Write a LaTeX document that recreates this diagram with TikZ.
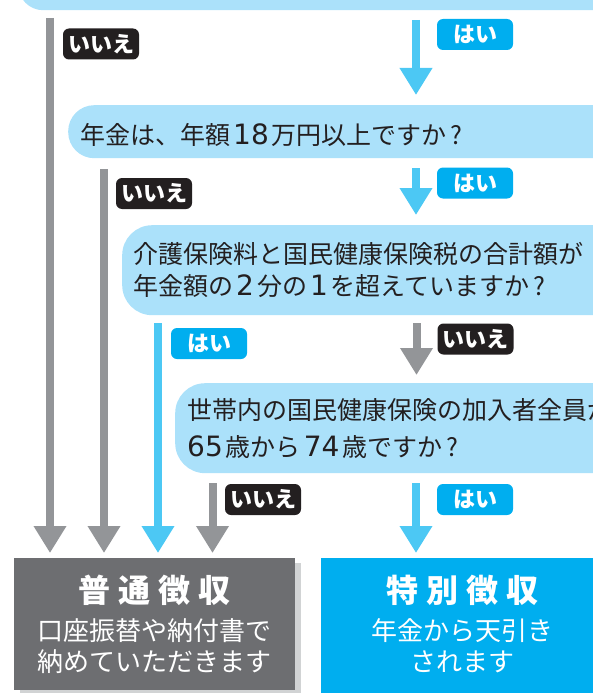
\documentclass[tikz,border=0pt]{standalone}
\usepackage{fontspec}
\setmainfont{Noto Sans CJK JP}
\newfontfamily\digitfont{DejaVu Sans}
\usetikzlibrary{arrows.meta}
\definecolor{bubble}{HTML}{ABE1FA}
\definecolor{arrblue}{HTML}{4CC8F4}
\definecolor{arrgray}{HTML}{939598}
\definecolor{yesbg}{HTML}{00AEEF}
\definecolor{nobg}{HTML}{231F20}
\definecolor{boxgray}{HTML}{6D6E71}
\definecolor{shadowgray}{HTML}{D1D3D4}
\definecolor{boxblue}{HTML}{00AEEF}
\definecolor{ink}{HTML}{231F20}
\newcommand{\dgt}[1]{{\digitfont\fontsize{28}{33}\selectfont #1}}
\newcommand{\jg}{\hspace{3pt}}
\tikzset{
  bubblebox/.style={fill=bubble, anchor=north west, inner sep=0pt},
  qtext/.style={anchor=base west, inner sep=0pt, text=ink, font=\fontsize{25}{33}\selectfont},
  garrow/.style={draw=arrgray, line width=8pt, -{Triangle[width=31pt,length=27pt]}},
  barrow/.style={draw=arrblue, line width=8pt, -{Triangle[width=31pt,length=27pt]}},
  anslabel/.style={rounded corners=6pt, text=white, minimum width=76pt, minimum height=31pt, inner sep=0pt, font=\fontsize{22}{24}\selectfont\bfseries},
  yeslabel/.style={anslabel, fill=yesbg},
  nolabel/.style={anslabel, fill=nobg},
  resultbox/.style={anchor=north west, inner sep=0pt},
  titletext/.style={anchor=base, inner sep=0pt, text=white, font=\fontsize{32}{36}\selectfont\bfseries},
  boxtext/.style={anchor=base, inner sep=0pt, text=white, font=\fontsize{26}{30}\selectfont},
}
\begin{document}
\begin{tikzpicture}[x=1pt,y=-1pt]
\useasboundingbox (0,0) rectangle (593,693);
\clip (0,0) rectangle (593,693);

% question bubbles
\node[bubblebox, minimum width=640pt, minimum height=60pt, rounded corners=25pt] (q0) at (18,-50) {};
\node[bubblebox, minimum width=560pt, minimum height=53pt, rounded corners=26pt] (q1) at (68,105) {};
\node[bubblebox, minimum width=500pt, minimum height=90pt, rounded corners=30pt] (q2) at (122,225) {};
\node[bubblebox, minimum width=500pt, minimum height=90pt, rounded corners=30pt] (q3) at (175,383) {};

\node[qtext] (q1t) at (80,144) {年金は、年額\jg\dgt{18}\jg 万円以上ですか\hspace{4pt}?};
\node[qtext] (q2a) at (133,263) {介護保険料と国民健康保険税の合計額が};
\node[qtext] (q2b) at (133,295.5) {年金額の\jg\dgt{2}\jg 分の\jg\dgt{1}\jg を超えていますか\hspace{4pt}?};
\node[qtext] (q3a) at (187,419.5) {世帯内の国民健康保険の加入者全員が};
\node[qtext] (q3b) at (187,456) {\dgt{65}\jg 歳から\jg\dgt{74}\jg 歳ですか\hspace{4pt}?};

% result boxes
\fill[shadowgray] (20,563) rectangle (301,697);
\node[resultbox, fill=boxgray, minimum width=281pt, minimum height=132pt] (futsu) at (14,558) {};
\node[resultbox, fill=boxblue, minimum width=290pt, minimum height=136pt] (toku) at (321,558) {};

\node[titletext] (f1) at (154,602.5) {普\hspace{8pt}通\hspace{8pt}徴\hspace{8pt}収};
\node[boxtext] (f2) at (154.5,640) {口座振替や納付書で};
\node[boxtext] (f3) at (154.5,671) {納めていただきます};
\node[titletext] (t1) at (462,602.5) {特\hspace{8pt}別\hspace{8pt}徴\hspace{8pt}収};
\node[boxtext] (t2) at (462,640) {年金から天引き};
\node[boxtext] (t3) at (462,671) {されます};

% arrow end points
\coordinate (a1s) at (50,18);    \coordinate (a1e) at (50,553);
\coordinate (a2s) at (416,20);   \coordinate (a2e) at (416,95);
\coordinate (a3s) at (104,169);  \coordinate (a3e) at (104,553);
\coordinate (a4s) at (416,168);  \coordinate (a4e) at (416,215);
\coordinate (a5s) at (158,323);  \coordinate (a5e) at (158,553);
\coordinate (a6s) at (416.5,323);\coordinate (a6e) at (416.5,375);
\coordinate (a7s) at (212.5,483);\coordinate (a7e) at (212.5,553);
\coordinate (a8s) at (416,483);  \coordinate (a8e) at (416,553);

\draw[garrow] (a1s) -- (a1e);
\draw[barrow] (a2s) -- (a2e);
\draw[garrow] (a3s) -- (a3e);
\draw[barrow] (a4s) -- (a4e);
\draw[barrow] (a5s) -- (a5e);
\draw[garrow] (a6s) -- (a6e);
\draw[garrow] (a7s) -- (a7e);
\draw[barrow] (a8s) -- (a8e);

% answer labels
\node[nolabel]  (n1) at (101,44)    {いいえ};
\node[yeslabel] (y1) at (475,34.5)  {はい};
\node[nolabel]  (n2) at (154,193.5) {いいえ};
\node[yeslabel] (y2) at (475,183)   {はい};
\node[yeslabel] (y3) at (209,343.5) {はい};
\node[nolabel]  (n3) at (475.5,339) {いいえ};
\node[nolabel]  (n4) at (263,499.5) {いいえ};
\node[yeslabel] (y4) at (475,499.5) {はい};
\end{tikzpicture}
\end{document}
